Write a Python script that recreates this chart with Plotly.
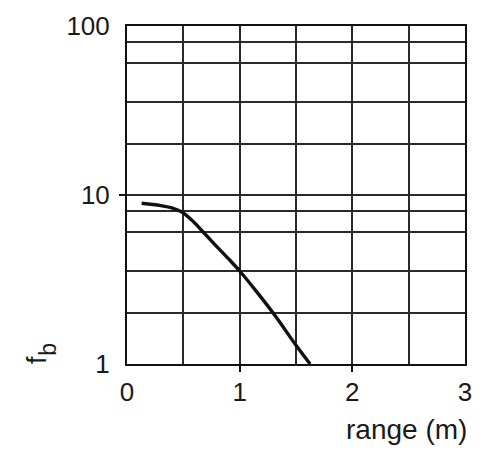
import plotly.graph_objects as go

# Data
range_m = [0.13, 0.3, 0.41, 0.49, 0.59, 0.68, 0.78, 0.9, 1.0, 1.15, 1.32, 1.5, 1.625]
f_b = [8.93, 8.65, 8.34, 7.91, 6.95, 6.0, 5.09, 4.2, 3.55, 2.68, 1.91, 1.29, 1.0]

x_ticks = [0, 1, 2, 3]
x_ticktext = ["0", "1", "2", "3"]
x_minor_grid = [0.5, 1.5, 2.5]
y_ticks = [1, 10, 100]
y_ticktext = ["1", "10", "100"]
y_minor_grid = [2, 3.55, 6, 8, 20, 35.5, 60, 80]

FONT = "Liberation Sans, Arial, Helvetica, sans-serif"
GRID = "#2a2a2a"
TXT = "#1a1a1a"

fig = go.Figure()
fig.add_trace(go.Scatter(x=range_m, y=f_b, mode="lines",
                         line=dict(color="#111111", width=3.4, shape="spline", smoothing=1.0),
                         showlegend=False, hoverinfo="skip"))

fig.update_layout(
    width=500, height=465,
    margin=dict(l=119, r=43, t=18, b=109),
    paper_bgcolor="white", plot_bgcolor="white",
    font=dict(family=FONT, size=26, color=TXT),
    xaxis=dict(range=[0, 3], tickvals=x_ticks, ticktext=x_ticktext, ticks="",
               showgrid=True, gridcolor=GRID, gridwidth=2,
               minor=dict(tickvals=x_minor_grid, showgrid=True, gridcolor=GRID, gridwidth=2, ticks=""),
               showline=True, linecolor="#111111", linewidth=2, mirror=True,
               zeroline=False, ticklabelstandoff=4, fixedrange=True, automargin=False,
               ticklabeloverflow="allow"),
    yaxis=dict(type="log", range=[0, 2], tickvals=y_ticks, ticktext=y_ticktext, ticks="",
               showgrid=True, gridcolor=GRID, gridwidth=2,
               minor=dict(tickvals=y_minor_grid, showgrid=True, gridcolor=GRID, gridwidth=2, ticks=""),
               showline=True, linecolor="#111111", linewidth=2, mirror=True,
               zeroline=False, ticklabelstandoff=10, fixedrange=True, automargin=False,
               ticklabeloverflow="allow"),
    xaxis2=dict(overlaying="x", range=[0, 3], tickvals=[1, 2], ticks="outside", ticklen=7,
                tickwidth=2, tickcolor="#111111", showticklabels=False, showgrid=False,
                zeroline=False, side="bottom", anchor="y", automargin=False),
    yaxis2=dict(overlaying="y", type="log", range=[0, 2], tickvals=[10], ticks="outside", ticklen=7,
                tickwidth=2, tickcolor="#111111", showticklabels=False, showgrid=False,
                zeroline=False, side="left", anchor="x", automargin=False),
    annotations=[
        dict(text="range (m)", xref="paper", yref="paper", x=1.012, y=-0.195,
             xanchor="right", yanchor="middle", showarrow=False,
             font=dict(family=FONT, size=28, color=TXT)),
        dict(text="f", xref="paper", yref="paper", x=-0.266, y=0.012,
             xanchor="center", yanchor="middle", textangle=-90, showarrow=False,
             font=dict(family=FONT, size=27, color=TXT)),
        dict(text="b", xref="paper", yref="paper", x=-0.232, y=0.044,
             xanchor="center", yanchor="middle", textangle=-90, showarrow=False,
             font=dict(family=FONT, size=23, color=TXT)),
    ],
)
# invisible helper trace so the overlay axes are drawn
fig.add_trace(go.Scatter(x=[None], y=[None], xaxis="x2", yaxis="y2", showlegend=False, hoverinfo="skip"))

fig.write_html("out.html")
